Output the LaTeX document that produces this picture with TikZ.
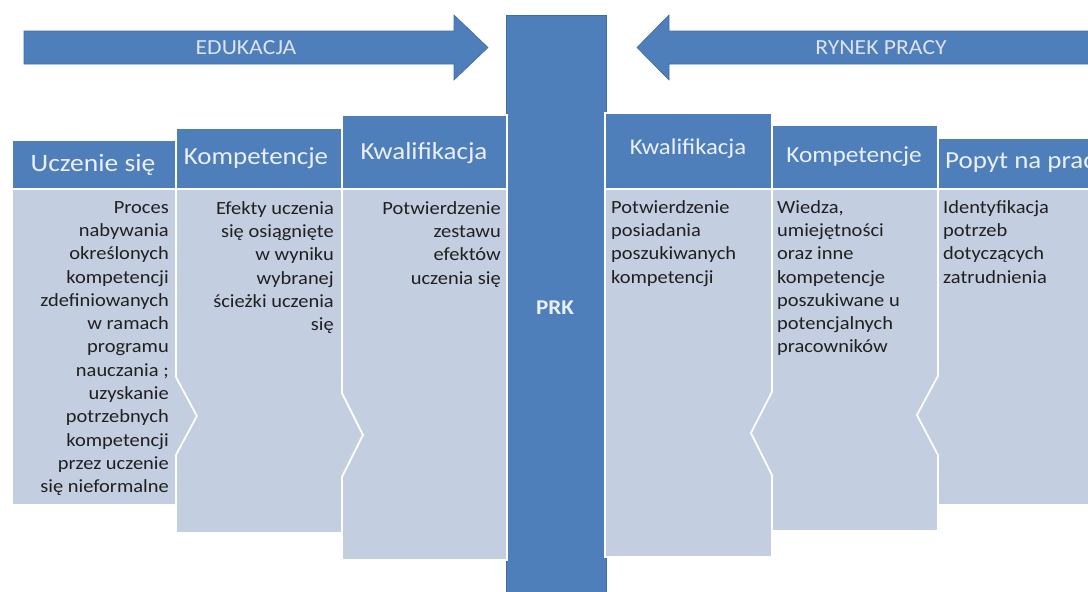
\documentclass[tikz,border=0pt]{standalone}
\usepackage{fontspec}
\setmainfont{Carlito}[FakeStretch=1.1]
\definecolor{prkblue}{HTML}{4F7FBA}
\definecolor{prkline}{HTML}{3E6CA4}
\definecolor{prklight}{HTML}{C4CEE1}
\definecolor{prkhead}{HTML}{EAF0F9}
\definecolor{prkarrow}{HTML}{DCE3EE}
\definecolor{prktext}{HTML}{202020}

\begin{document}
\begin{tikzpicture}[x=1pt, y=-1pt,
  bluebox/.style={fill=prkblue, draw=white, line width=1.6pt},
  lightbox/.style={fill=prklight, draw=white, line width=1.6pt},
  bigarrow/.style={fill=prkblue, draw=prkline, line width=0.6pt},
  head/.style={text=prkhead, inner sep=0pt},
  body/.style={text=prktext, inner sep=0pt, font=\fontsize{18.6}{23.3}\selectfont}]
\useasboundingbox (0,0) rectangle (1088,592);
\clip (0,0) rectangle (1088,592);

\draw[bigarrow] (24,31) -- (454,31) -- (454,15) -- (488,47.5) -- (454,80) -- (454,64) -- (24,64) -- cycle;
\draw[bigarrow] (1095,31) -- (669,31) -- (669,15) -- (637,47.5) -- (669,80) -- (669,64) -- (1095,64) -- cycle;
\node[head, text=prkarrow, font=\fontsize{21.5}{24}\selectfont] (edukacja) at (246,47.5) {EDUKACJA};
\node[head, text=prkarrow, font=\fontsize{21.5}{24}\selectfont] (rynek) at (881,47.5) {RYNEK PRACY};

\draw[bigarrow] (506,15) rectangle (606,600);
\node[head, font=\fontsize{21}{24}\bfseries] (prk) at (555,308) {PRK};

\draw[lightbox] (12,189) -- (176,189) -- (176,377) -- (197,416) -- (176,455) -- (176,505) -- (12,505) -- cycle;
\draw[lightbox] (176,189) -- (342,189) -- (342,393) -- (363,435) -- (342,477) -- (342,533) -- (176,533) -- (176,455) -- (197,416) -- (176,377) -- cycle;
\draw[lightbox] (342,189) -- (507,189) -- (507,560) -- (342,560) -- (342,477) -- (363,435) -- (342,393) -- cycle;
\draw[lightbox] (605,189) -- (772,189) -- (772,392) -- (751,433) -- (772,475) -- (772,557) -- (605,557) -- cycle;
\draw[lightbox] (772,189) -- (938,189) -- (938,376) -- (917,415) -- (938,455) -- (938,531) -- (772,531) -- (772,475) -- (751,433) -- (772,392) -- cycle;
\draw[lightbox] (938,189) -- (1095,189) -- (1095,505) -- (938,505) -- (938,455) -- (917,415) -- (938,376) -- cycle;

\draw[bluebox] (12,140) rectangle (176,189);
\draw[bluebox] (176,128) rectangle (342,189);
\draw[bluebox] (342,115) rectangle (507,189);
\draw[bluebox] (605,113) rectangle (772,189);
\draw[bluebox] (772,125) rectangle (938,189);
\draw[bluebox] (938,138) rectangle (1095,189);

\node[head, font=\fontsize{25}{30}\selectfont] (ucz) at (93,165) {Uczenie się};
\node[head, font=\fontsize{24.5}{30}\selectfont] (komp-l) at (256,158) {Kompetencje};
\node[head, font=\fontsize{24.5}{30}\selectfont] (kwal-l) at (424,153) {Kwalifikacja};
\node[head, font=\fontsize{22.5}{30}\selectfont] (kwal-r) at (688,149) {Kwalifikacja};
\node[head, font=\fontsize{23}{30}\selectfont] (komp-r) at (854,157) {Kompetencje};
\node[head, font=\fontsize{24.5}{30}\selectfont, anchor=west] (popyt) at (945,163) {Popyt na pracę};

\node[body, anchor=north east, align=right] (ucz-txt) at (169,201)
  {Proces\\nabywania\\określonych\\kompetencji\\zdefiniowanych\\w ramach\\programu\\nauczania ;\\uzyskanie\\potrzebnych\\kompetencji\\przez uczenie\\się nieformalne};
\node[body, anchor=north east, align=right] (komp-l-txt) at (334,201)
  {Efekty uczenia\\się osiągnięte\\w wyniku\\wybranej\\ścieżki uczenia\\się};
\node[body, anchor=north east, align=right] (kwal-l-txt) at (501,201)
  {Potwierdzenie\\zestawu\\efektów\\uczenia się};
\node[body, anchor=north west, align=left] (kwal-r-txt) at (611,200)
  {Potwierdzenie\\posiadania\\poszukiwanych\\kompetencji};
\node[body, anchor=north west, align=left] (komp-r-txt) at (777,200)
  {Wiedza,\\umiejętności\\oraz inne\\kompetencje\\poszukiwane u\\potencjalnych\\pracowników};
\node[body, anchor=north west, align=left] (popyt-txt) at (943,200)
  {Identyfikacja\\potrzeb\\dotyczących\\zatrudnienia};
\end{tikzpicture}
\end{document}
